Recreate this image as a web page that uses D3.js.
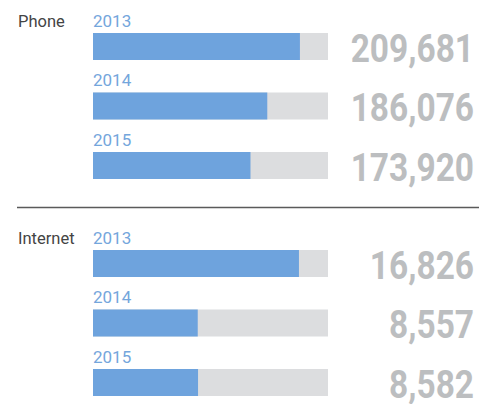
<!DOCTYPE html>
<html>
<head>
<meta charset="utf-8">
<script src="https://cdn.jsdelivr.net/npm/d3@7/dist/d3.min.js"></script>
<style>
  html, body { margin: 0; padding: 0; background: #fff; }
  svg { display: block; }
</style>
</head>
<body>
<svg id="chart" width="481" height="404"></svg>
<script>
// Subscriber counts by channel and year
const groups = ["Phone", "Internet"];
const years = ["2013", "2014", "2015"];
const phoneValues = [209681, 186076, 173920];
const internetValues = [16826, 8557, 8582];

const seriesValues = { Phone: phoneValues, Internet: internetValues };
// Each panel has its own track scale
const domains = { Phone: [60000, 230000], Internet: [0, 19200] };

const svg = d3.select("#chart");
const fmt = d3.format(",");

const trackX0 = 93, trackX1 = 328;
const valueRight = 474;
const y = d3.scaleBand().domain(years).range([33, 179]).paddingInner(1 - 27 / 59.5).paddingOuter(0);

const colors = {
  bar: "#6ea3dd",
  track: "#dcdddf",
  year: "#74a6dc",
  value: "#bcbec0",
  label: "#444444",
  rule: "#5a5a5a"
};

groups.forEach((g, gi) => {
  const x = d3.scaleLinear().domain(domains[g]).range([trackX0, trackX1]);
  const off = gi * 217;
  const panel = svg.append("g").attr("transform", `translate(0,${off})`);

  panel.append("text")
    .attr("x", 18).attr("y", 26.5)
    .attr("font-family", "Roboto, 'Open Sans', sans-serif")
    .attr("font-size", 16.5)
    .attr("fill", colors.label)
    .text(g);

  const rows = panel.selectAll("g.row")
    .data(years.map((yr, i) => ({ year: yr, value: seriesValues[g][i] })))
    .join("g").attr("class", "row");

  rows.append("rect")
    .attr("x", trackX0).attr("y", d => y(d.year))
    .attr("width", trackX1 - trackX0).attr("height", y.bandwidth())
    .attr("fill", colors.track);

  rows.append("rect")
    .attr("x", trackX0).attr("y", d => y(d.year))
    .attr("width", d => x(d.value) - trackX0).attr("height", y.bandwidth())
    .attr("fill", colors.bar);

  rows.append("text")
    .attr("x", trackX0).attr("y", d => y(d.year) - 6.5)
    .attr("font-family", "Roboto, sans-serif")
    .attr("font-size", 17)
    .attr("fill", colors.year)
    .text(d => d.year);

  // big value figures, condensed horizontally around their right edge
  rows.append("text")
    .attr("transform", d => `translate(${valueRight},${y(d.year) + 28.5}) scale(0.88,1)`)
    .attr("text-anchor", "end")
    .attr("font-family", "Roboto, sans-serif")
    .attr("font-weight", 700)
    .attr("font-size", 38)
    .attr("fill", colors.value)
    .text(d => fmt(d.value));
});

// divider between panels
svg.append("line")
  .attr("x1", 17).attr("x2", 479)
  .attr("y1", 207.5).attr("y2", 207.5)
  .attr("stroke", colors.rule).attr("stroke-width", 1.3);
</script>
</body>
</html>
